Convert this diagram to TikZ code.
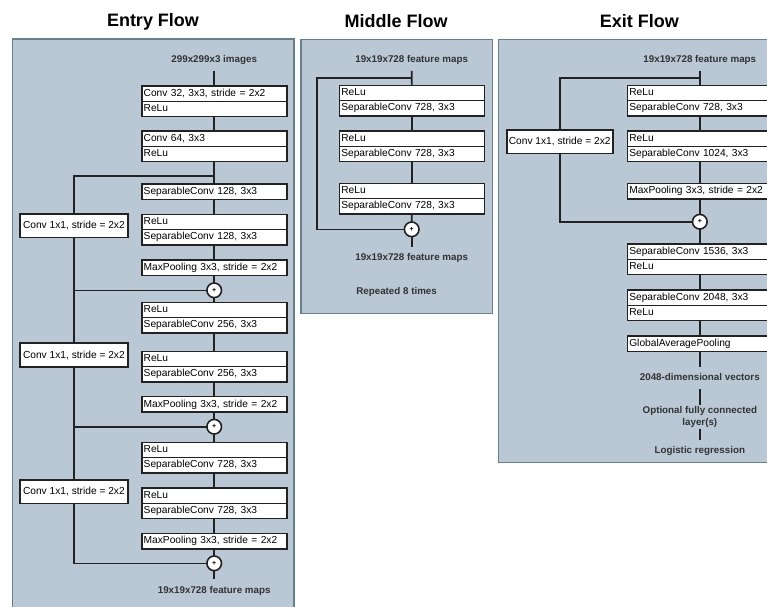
\documentclass[tikz,border=0pt]{standalone}
\usepackage{fontspec}
\setmainfont{Liberation Sans}
\definecolor{panelfill}{HTML}{B9C8D4}
\definecolor{panelline}{HTML}{66808F}
\definecolor{boxline}{HTML}{222222}
\definecolor{labeltext}{HTML}{333333}
\tikzset{
 panel/.style={draw=panelline, fill=panelfill, line width=1.5pt},
 row/.style={draw=boxline, fill=white, line width=0.7pt, outer sep=0pt, minimum width=145pt, minimum height=15.3pt, text width=141pt, inner xsep=2pt, inner ysep=0pt, align=left, text height=7.3pt, text depth=2pt, font=\fontsize{10.2}{12}\selectfont, anchor=north west},
 onerow/.style={line width=1.6pt, minimum height=15.6pt},
 frame/.style={draw=boxline, line width=1.6pt},
 convbox/.style={draw=boxline, fill=white, line width=1.6pt, outer sep=0pt, minimum width=107.7pt, minimum height=23.5pt, inner sep=0pt, font=\fontsize{10.2}{12}\selectfont},
 plusnode/.style={circle, draw=boxline, fill=white, line width=1.6pt, minimum size=14.6pt, inner sep=0pt, outer sep=0pt, font=\fontsize{7}{7}\selectfont\bfseries},
 lbl/.style={font=\fontsize{9.8}{12.7}\selectfont\bfseries, text=labeltext, inner xsep=1pt, inner ysep=6pt, text height=7.3pt, text depth=2pt},
 lbltwo/.style={font=\fontsize{9.8}{12.7}\selectfont\bfseries, text=labeltext, inner xsep=1pt, inner ysep=0.5pt, align=center},
 title/.style={font=\fontsize{18}{20}\selectfont\bfseries, inner sep=0pt},
 conn/.style={draw=boxline, line width=1.6pt},
}
\newcommand{\twobox}[5]{%
 \node[row] (#1a) at (#2,#3) {#4};
 \node[row] (#1b) at (#1a.south west) {#5};
 \draw[frame] (#1a.north west) rectangle (#1b.south east);}
\newcommand{\onebox}[4]{%
 \node[row,onerow] (#1) at (#2,#3) {#4};}
\begin{document}
\begin{tikzpicture}[x=1pt,y=-1pt]
\useasboundingbox (0,0) rectangle (767,606);
\clip (0,0) rectangle (767,606);
% panels
\path[panel] (12.7,39) rectangle (294,630);
\path[panel] (301,39.3) rectangle (492.3,313.3);
\path[panel] (498.3,39.3) rectangle (790,462.3);
% titles
\node[title] (tentry) at (153,21.5) {Entry Flow};
\node[title] (tmiddle) at (396,21.5) {Middle Flow};
\node[title] (texit) at (639.3,21.5) {Exit Flow};

% ---------------- Entry flow ----------------
\node[lbl] (ein) at (214.2,60) {299x299x3 images};
\twobox{e1}{141.7}{85.7}{Conv 32, 3x3, stride = 2x2}{ReLu}
\twobox{e2}{141.7}{130.7}{Conv 64, 3x3}{ReLu}
\onebox{e3}{141.7}{183.8}{SeparableConv 128, 3x3}
\twobox{e4}{141.7}{214.3}{ReLu}{SeparableConv 128, 3x3}
\onebox{e5}{141.7}{260}{MaxPooling 3x3, stride = 2x2}
\node[plusnode] (p1) at (214.2,290.3) {+};
\twobox{e6}{141.7}{302.3}{ReLu}{SeparableConv 256, 3x3}
\twobox{e7}{141.7}{351.3}{ReLu}{SeparableConv 256, 3x3}
\onebox{e8}{141.7}{396.6}{MaxPooling 3x3, stride = 2x2}
\node[plusnode] (p2) at (214.2,426.7) {+};
\twobox{e9}{141.7}{442.3}{ReLu}{SeparableConv 728, 3x3}
\twobox{e10}{141.7}{487.7}{ReLu}{SeparableConv 728, 3x3}
\onebox{e11}{141.7}{533.5}{MaxPooling 3x3, stride = 2x2}
\node[plusnode] (p3) at (214.2,563.3) {+};
\node[lbl, inner ysep=7.5pt] (eout) at (214.2,591.3) {19x19x728 feature maps};
\node[convbox] (c1) at (73.9,225.9) {Conv 1x1, stride = 2x2};
\node[convbox] (c2) at (73.9,355) {Conv 1x1, stride = 2x2};
\node[convbox] (c3) at (73.9,491.7) {Conv 1x1, stride = 2x2};
\coordinate (j1) at (214.2,175.7);
\begin{scope}[conn]
\draw (ein.south) -- (e1a.north);
\draw (e1b.south) -- (e2a.north);
\draw (e2b.south) -- (e3.north);
\draw (e3.south) -- (e4a.north);
\draw (e4b.south) -- (e5.north);
\draw (e5.south) -- (p1.north);
\draw (p1.south) -- (e6a.north);
\draw (e6b.south) -- (e7a.north);
\draw (e7b.south) -- (e8.north);
\draw (e8.south) -- (p2.north);
\draw (p2.south) -- (e9a.north);
\draw (e9b.south) -- (e10a.north);
\draw (e10b.south) -- (e11.north);
\draw (e11.south) -- (p3.north);
\draw (p3.south) -- (eout.north);
\draw (j1) -| (c1.north);
\draw (c1.south) |- (p1.west);
\draw (p1.west) -| (c2.north);
\draw (c2.south) |- (p2.west);
\draw (p2.west) -| (c3.north);
\draw (c3.south) |- (p3.west);
\end{scope}

% ---------------- Middle flow ----------------
\node[lbl] (min) at (411.7,60) {19x19x728 feature maps};
\twobox{m1}{339.3}{85.3}{ReLu}{SeparableConv 728, 3x3}
\twobox{m2}{339.3}{130.7}{ReLu}{SeparableConv 728, 3x3}
\twobox{m3}{339.3}{183.3}{ReLu}{SeparableConv 728, 3x3}
\node[plusnode] (mp) at (411.7,229.3) {+};
\node[lbl] (mout) at (411.7,257.4) {19x19x728 feature maps};
\node[lbl] (mrep) at (396.6,291.4) {Repeated 8 times};
\coordinate (mj) at (411.7,77.7);
\coordinate (mk) at (316.7,229.3);
\begin{scope}[conn]
\draw (min.south) -- (m1a.north);
\draw (m1b.south) -- (m2a.north);
\draw (m2b.south) -- (m3a.north);
\draw (m3b.south) -- (mp.north);
\draw (mp.south) -- (mout.north);
\draw (mj) -| (mk) -- (mp.west);
\end{scope}

% ---------------- Exit flow ----------------
\node[lbl] (xin) at (699.8,60) {19x19x728 feature maps};
\twobox{x1}{627.3}{85.3}{ReLu}{SeparableConv 728, 3x3}
\twobox{x2}{627.3}{130.7}{ReLu}{SeparableConv 1024, 3x3}
\onebox{x3}{627.3}{183.5}{MaxPooling 3x3, stride = 2x2}
\node[plusnode] (xp) at (699.8,221.7) {+};
\twobox{x4}{627.3}{244}{SeparableConv 1536, 3x3}{ReLu}
\twobox{x5}{627.3}{290}{SeparableConv 2048, 3x3}{ReLu}
\onebox{x6}{627.3}{335.8}{GlobalAveragePooling}
\node[lbl] (xvec) at (699.8,378.3) {2048-dimensional vectors};
\node[lbltwo] (xopt) at (699.8,417) {Optional fully connected\\layer(s)};
\node[lbl] (xlog) at (699.8,450.7) {Logistic regression};
\node[convbox, minimum width=106pt] (xc) at (559.7,141.7) {Conv 1x1, stride = 2x2};
\coordinate (xj) at (699.8,77.7);
\begin{scope}[conn]
\draw (xin.south) -- (x1a.north);
\draw (x1b.south) -- (x2a.north);
\draw (x2b.south) -- (x3.north);
\draw (x3.south) -- (xp.north);
\draw (xp.south) -- (x4a.north);
\draw (x4b.south) -- (x5a.north);
\draw (x5b.south) -- (x6.north);
\draw (x6.south) -- (xvec.north);
\draw (xvec.south) -- (xopt.north);
\draw (xopt.south) -- (xlog.north);
\draw (xj) -| (xc.north);
\draw (xc.south) |- (xp.west);
\end{scope}
\end{tikzpicture}
\end{document}
